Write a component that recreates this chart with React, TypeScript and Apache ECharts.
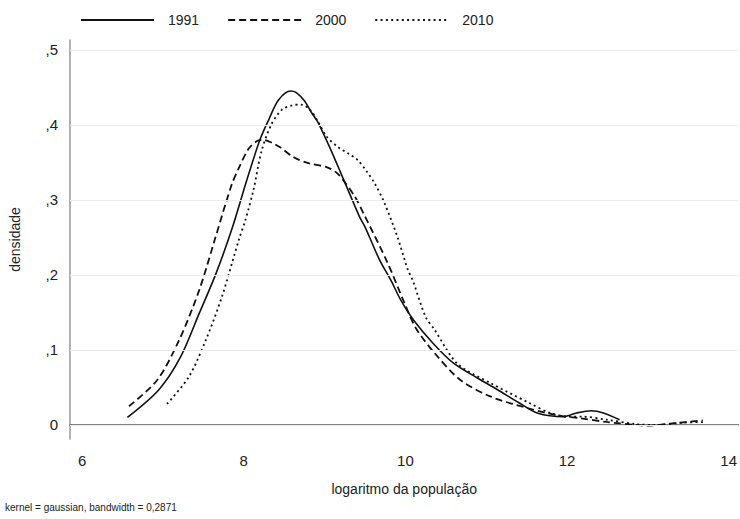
import React, { useEffect, useRef } from "react";
import * as echarts from "echarts";

const seriesNames = ["1991", "2000", "2010"];

const s1991: [number, number][] = [
  [6.56, 0.01], [6.95, 0.047], [7.22, 0.091], [7.45, 0.149], [7.65, 0.2], [7.85, 0.26],
  [8.04, 0.327], [8.2, 0.38], [8.31, 0.407], [8.43, 0.433], [8.58, 0.445], [8.65, 0.443],
  [8.75, 0.432], [8.84, 0.416], [8.92, 0.403], [9.08, 0.366], [9.2, 0.336], [9.43, 0.278],
  [9.5, 0.264], [9.68, 0.22], [9.82, 0.193], [9.94, 0.167], [10.1, 0.14], [10.35, 0.108],
  [10.6, 0.082], [10.9, 0.062], [11.14, 0.047], [11.4, 0.03], [11.63, 0.016], [11.96, 0.011],
  [12.12, 0.016], [12.3, 0.019], [12.45, 0.016], [12.65, 0.007],
];

const s2000: [number, number][] = [
  [6.58, 0.025], [6.93, 0.06], [7.2, 0.113], [7.45, 0.18], [7.65, 0.25], [7.85, 0.32],
  [7.95, 0.345], [8.06, 0.368], [8.16, 0.378], [8.24, 0.38], [8.35, 0.376], [8.45, 0.37],
  [8.63, 0.356], [8.8, 0.349], [9.04, 0.343], [9.17, 0.334], [9.37, 0.305], [9.5, 0.278],
  [9.78, 0.216], [9.99, 0.162], [10.13, 0.129], [10.36, 0.096], [10.68, 0.06], [11.05, 0.038],
  [11.46, 0.024], [11.87, 0.013], [12.16, 0.009], [12.49, 0.004], [12.86, 0.0], [12.98, -0.001],
  [13.3, 0.002], [13.68, 0.006],
];

const s2010: [number, number][] = [
  [7.05, 0.028], [7.32, 0.064], [7.53, 0.113], [7.73, 0.171], [7.94, 0.247], [8.02, 0.273],
  [8.12, 0.313], [8.22, 0.365], [8.34, 0.4], [8.47, 0.42], [8.6, 0.426], [8.71, 0.427],
  [8.82, 0.42], [8.92, 0.404], [9.02, 0.385], [9.17, 0.37], [9.29, 0.362], [9.41, 0.353],
  [9.52, 0.338], [9.62, 0.322], [9.74, 0.296], [9.9, 0.251], [10.03, 0.207], [10.09, 0.193],
  [10.25, 0.144], [10.36, 0.127], [10.64, 0.082], [11.05, 0.056], [11.54, 0.029], [11.79, 0.016],
  [12.03, 0.011], [12.2, 0.011], [12.49, 0.007], [12.86, 0.001], [13.1, 0.0], [13.43, 0.003],
  [13.72, 0.004],
];

const xTicks = [6, 8, 10, 12, 14];
const yTicks = [0, 0.1, 0.2, 0.3, 0.4, 0.5];

const xTitle = "logaritmo da população";
const yTitle = "densidade";
const footnote = "kernel = gaussian, bandwidth = 0,2871";

const FONT = "Liberation Sans, Arial, sans-serif";
const TEXT = "#222";

export default function App() {
  const ref = useRef<HTMLDivElement>(null);
  useEffect(() => {
    document.body.style.margin = "0";
    if (!ref.current) return;
    const chart = echarts.init(ref.current, null, { renderer: "svg" });
    const lineStyles: any[] = [
      { color: "#111", width: 1.6, type: "solid" },
      { color: "#111", width: 1.8, type: [7, 4] },
      { color: "#111", width: 1.8, type: [2, 3.3] },
    ];
    const datas = [s1991, s2000, s2010];
    const series: any[] = datas.map((d, i) => ({
      name: seriesNames[i],
      type: "line",
      data: d,
      smooth: 0.3,
      symbol: "none",
      showSymbol: false,
      lineStyle: lineStyles[i],
      itemStyle: { color: "#111" },
      z: 3,
    }));
    series.push({
      type: "line",
      data: [],
      silent: true,
      z: 1,
      markLine: {
        silent: true,
        symbol: "none",
        label: { show: false },
        lineStyle: { color: "#ececec", width: 1.2, type: "solid" },
        data: yTicks.map((v) => ({ yAxis: v })),
      },
    });
    chart.setOption({
      animation: false,
      backgroundColor: "#fff",
      textStyle: { fontFamily: FONT },
      grid: { left: 70, right: 0, top: 40, bottom: 80, containLabel: false },
      legend: {
        data: seriesNames,
        left: 80,
        top: 13,
        padding: 0,
        itemWidth: 73,
        itemHeight: 14,
        itemGap: 28,
        itemStyle: { opacity: 0, borderWidth: 0 },
        textStyle: { fontSize: 14, color: TEXT, fontFamily: FONT, padding: [0, 0, 0, 9] },
      },
      xAxis: {
        type: "value",
        min: 5.85,
        max: 14.12,
        name: xTitle,
        nameLocation: "middle",
        nameGap: 43,
        nameTextStyle: { fontSize: 14, color: TEXT, fontFamily: FONT },
        axisLine: { show: true, lineStyle: { color: "#555", width: 1.5 } },
        axisTick: { show: false },
        splitLine: { show: false },
        axisLabel: {
          customValues: xTicks,
          fontSize: 15,
          color: TEXT,
          margin: 14,
          fontFamily: FONT,
        },
      },
      yAxis: {
        type: "value",
        min: -0.0187,
        max: 0.513,
        name: yTitle,
        nameLocation: "middle",
        nameGap: 48,
        nameTextStyle: { fontSize: 14, color: TEXT, fontFamily: FONT },
        axisLine: { show: true, lineStyle: { color: "#999", width: 1.5 } },
        axisTick: { show: false },
        splitLine: { show: false },
        axisLabel: {
          customValues: yTicks,
          fontSize: 15,
          color: TEXT,
          margin: 12,
          fontFamily: FONT,
          formatter: (v: number) => (v === 0 ? "0" : v.toFixed(1).replace("0.", ",")),
        },
      },
      graphic: [
        {
          type: "text",
          left: 5,
          top: 502,
          style: { text: footnote, fontSize: 10, fill: TEXT, fontFamily: FONT },
        },
      ],
      series,
    });
    return () => chart.dispose();
  }, []);
  return <div ref={ref} style={{ width: 740, height: 519 }} />;
}
